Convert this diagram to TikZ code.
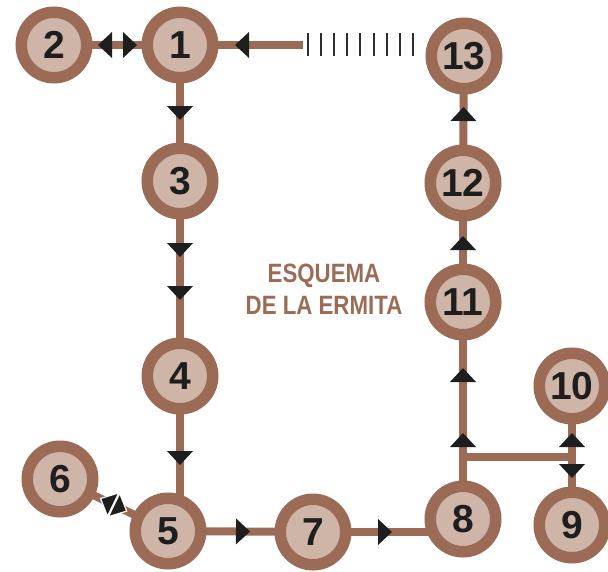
\documentclass[tikz,border=0pt]{standalone}
\usepackage{fontspec}
\setmainfont{Liberation Sans}
\newfontfamily\digitfam{Liberation Sans}
\newfontfamily\labelfam{Liberation Sans}[FakeStretch=0.84]
\usetikzlibrary{decorations.markings}
\pgfdeclarelayer{bg}
\pgfsetlayers{bg,main}
\definecolor{ring}{RGB}{156,107,86}
\definecolor{pale}{RGB}{207,181,167}
\definecolor{tipcol}{RGB}{30,30,30}
\definecolor{tickcol}{RGB}{45,45,45}
\tikzset{
  stop/.style={circle, fill=pale, draw=ring, line width=11.5pt, minimum size=65.5pt,
    inner sep=0pt, font=\digitfam\bfseries\fontsize{39}{39}\selectfont, text=tipcol},
  conn/.style={draw=ring, line width=8pt},
  fwdtip/.style={postaction={decorate, decoration={markings,
    mark=at position #1 with {\fill[tipcol] (0pt,0pt) -- (-14pt,13pt) -- (-14pt,-13pt) -- cycle;}}}},
  backtip/.style={postaction={decorate, decoration={markings,
    mark=at position #1 with {\fill[tipcol] (0pt,0pt) -- (14pt,13pt) -- (14pt,-13pt) -- cycle;}}}},
  fwdtipw/.style={postaction={decorate, decoration={markings,
    mark=at position #1 with {\filldraw[fill=tipcol, draw=white, line width=1.2pt] (0pt,0pt) -- (-14pt,13pt) -- (-14pt,-13pt) -- cycle;}}}},
  backtipw/.style={postaction={decorate, decoration={markings,
    mark=at position #1 with {\filldraw[fill=tipcol, draw=white, line width=1.2pt] (0pt,0pt) -- (14pt,13pt) -- (14pt,-13pt) -- cycle;}}}},
  ticks/.style={draw=tickcol, line width=23pt, dash pattern=on 2pt off 11.1pt},
  title/.style={align=center, inner sep=0pt, text=ring,
    font=\labelfam\bfseries\fontsize{26.5}{32}\selectfont},
}
\begin{document}
\begin{tikzpicture}[x=1pt, y=-1pt]
\useasboundingbox (0,0) rectangle (608,571);
% stops
\node[stop] (n1)  at (180,45)  {1};
\node[stop] (n2)  at (54,45)   {2};
\node[stop] (n13) at (464,56)  {13};
\node[stop] (n3)  at (180,181) {3};
\node[stop] (n12) at (463,183) {12};
\node[stop] (n11) at (463,302) {11};
\node[stop] (n4)  at (180,376) {4};
\node[stop] (n10) at (572,386) {10};
\node[stop] (n6)  at (60,479)  {6};
\node[stop] (n5)  at (168,531) {5};
\node[stop] (n7)  at (313,532) {7};
\node[stop] (n8)  at (463,519) {8};
\node[stop] (n9)  at (572,525) {9};
\node[title] (lbl) at (324,289.5) {ESQUEMA\\DE LA ERMITA};
% helper points
\coordinate (dend) at (303,45);
\coordinate (tk0) at (307,44);
\coordinate (tk1) at (414,44);
\coordinate (br) at (463,457);
\begin{pgfonlayer}{bg}
\draw[conn, backtip=44pt, fwdtip=83pt] (n2.center) -- (n1.center);
\draw[conn, fwdtip=75pt] (n1.center) -- (n3.center);
\draw[conn, fwdtip=76pt, fwdtip=119pt] (n3.center) -- (n4.center);
\draw[conn, fwdtip=89pt] (n4.center) -- (n4.center |- n5.center);
\draw[conn, backtipw=45pt, fwdtipw=74pt] (n6.center) -- (n5.center);
\draw[conn, fwdtip=82pt] (n5.center) -- (n7.center);
\draw[conn, fwdtip=79pt] (n7.center) -- (n7.center -| n8.center);
\draw[conn, fwdtip=86pt, fwdtip=151pt] (n8.center) -- (n11.center);
\draw[conn] (br) -- (br -| n10.center);
\draw[conn, backtip=47pt, fwdtip=92pt] (n10.center) -- (n9.center);
\draw[conn, fwdtip=66pt] (n11.center) -- (n12.center);
\draw[conn, fwdtip=76pt] (n12.center) -- (n13.center);
\draw[conn, fwdtip=68pt] (dend) -- (n1.center);
\draw[ticks] (tk0) -- (tk1);
\end{pgfonlayer}
\end{tikzpicture}
\end{document}
